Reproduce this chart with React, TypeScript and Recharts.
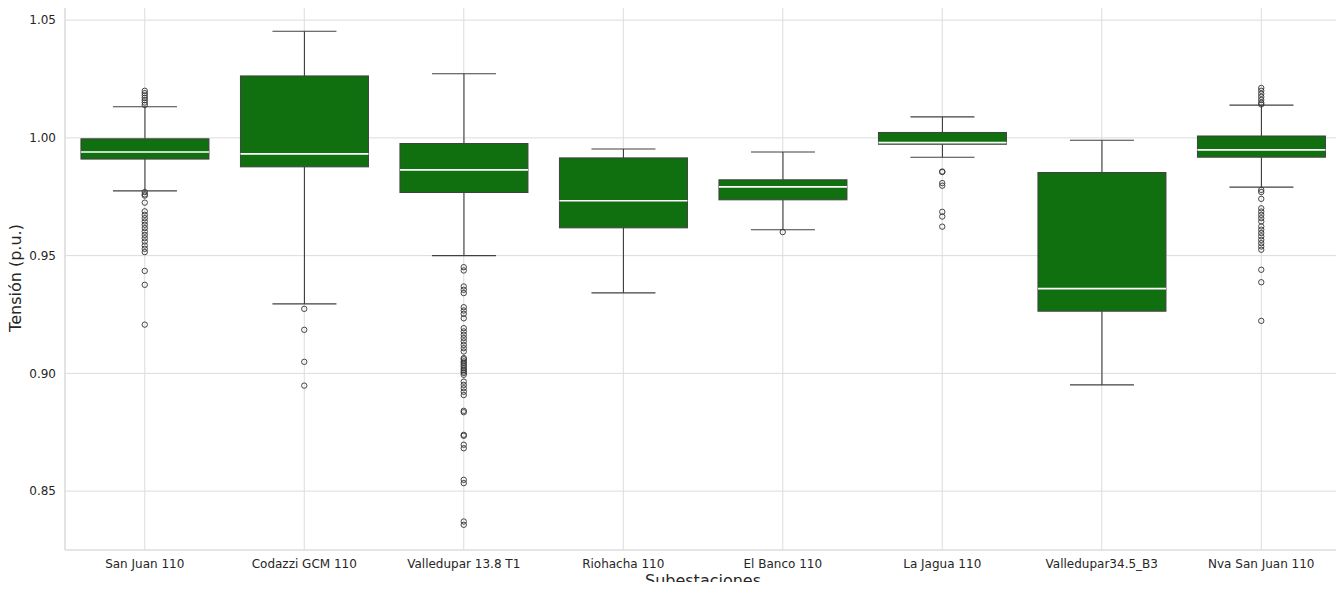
import { ComposedChart, Bar, Scatter, XAxis, YAxis, CartesianGrid } from "recharts";

// ── Box statistics per substation (p.u.) ────────────────────────────────────
const CATEGORIES = [
  "San Juan 110",
  "Codazzi GCM 110",
  "Valledupar 13.8 T1",
  "Riohacha 110",
  "El Banco 110",
  "La Jagua 110",
  "Valledupar34.5_B3",
  "Nva San Juan 110",
];
const WHISKER_LOW = [0.9775, 0.9295, 0.95, 0.9342, 0.961, 0.9918, 0.8951, 0.9791];
const Q1 = [0.991, 0.9877, 0.9768, 0.9618, 0.9737, 0.9973, 0.9264, 0.9918];
const MEDIAN = [0.994, 0.9932, 0.9864, 0.9733, 0.9792, 0.998, 0.936, 0.9949];
const Q3 = [0.9996, 1.0263, 0.9976, 0.9915, 0.9822, 1.0023, 0.9853, 1.0008];
const WHISKER_HIGH = [1.0132, 1.0453, 1.0272, 0.9953, 0.994, 1.0089, 0.999, 1.0139];

const OUTLIERS: number[][] = [
  [
    1.02, 1.019, 1.018, 1.017, 1.016, 1.015, 1.014, 0.977, 0.976, 0.9755, 0.9725, 0.9688, 0.9673, 0.9659,
    0.9645, 0.9631, 0.9617, 0.9602, 0.9588, 0.9574, 0.956, 0.9543, 0.9529, 0.9515, 0.9435, 0.9376, 0.9207,
  ],
  [0.9274, 0.9185, 0.9049, 0.8948],
  [
    0.9451, 0.9437, 0.9369, 0.9355, 0.9341, 0.9281, 0.9267, 0.9253, 0.9234, 0.9192, 0.9178, 0.9164, 0.915,
    0.9136, 0.9121, 0.9107, 0.9093, 0.9065, 0.906, 0.9051, 0.9045, 0.9037, 0.903, 0.9022, 0.9015, 0.9008,
    0.9002, 0.8994, 0.8965, 0.8951, 0.8937, 0.8922, 0.8908, 0.8841, 0.8835, 0.8739, 0.8735, 0.8697, 0.8682,
    0.8548, 0.8534, 0.8371, 0.8357,
  ],
  [],
  [0.96],
  [0.9857, 0.9855, 0.9808, 0.9797, 0.9686, 0.9666, 0.9623],
  [],
  [
    1.0212, 1.02, 1.0187, 1.0174, 1.0161, 1.0149, 1.0142, 0.9779, 0.977, 0.9741, 0.9701, 0.9687, 0.9673,
    0.9659, 0.9645, 0.9624, 0.961, 0.9596, 0.9582, 0.9567, 0.9553, 0.9539, 0.9525, 0.944, 0.9387, 0.9223,
  ],
];

const Y_TICKS = [0.85, 0.9, 0.95, 1.0, 1.05];

const FONT = "'DejaVu Sans', sans-serif";
const TEXT = "#262626";
const GRID = "#dcdcdc";
const BOX_FILL = "#107010";
const LINE = "#404040";

const boxData = CATEGORIES.map((name, i) => ({
  name,
  range: [WHISKER_LOW[i], WHISKER_HIGH[i]],
  q1: Q1[i],
  med: MEDIAN[i],
  q3: Q3[i],
}));

const outlierData = CATEGORIES.flatMap((name, i) => OUTLIERS[i].map((v) => ({ name, v })));

// whisker range comes from the bar scale, quartiles placed linearly inside it
function BoxShape(props: any) {
  const { x, y, width, height, payload } = props;
  const [lo, hi] = payload.range;
  const k = height / (hi - lo);
  const py = (v: number) => y + (hi - v) * k;
  const cx = x + width / 2;
  const cap = width / 4;
  const yQ1 = py(payload.q1);
  const yQ3 = py(payload.q3);
  const yMed = py(payload.med);
  return (
    <g>
      <line x1={cx} x2={cx} y1={y} y2={yQ3} stroke={LINE} strokeWidth={1.1} />
      <line x1={cx} x2={cx} y1={yQ1} y2={y + height} stroke={LINE} strokeWidth={1.1} />
      <line x1={cx - cap} x2={cx + cap} y1={y} y2={y} stroke={LINE} strokeWidth={1.1} />
      <line x1={cx - cap} x2={cx + cap} y1={y + height} y2={y + height} stroke={LINE} strokeWidth={1.1} />
      <rect x={x} y={yQ3} width={width} height={yQ1 - yQ3} fill={BOX_FILL} stroke={LINE} strokeWidth={1} />
      <line x1={x} x2={x + width} y1={yMed} y2={yMed} stroke="#ffffff" strokeWidth={1.6} />
    </g>
  );
}

function OutlierShape(props: any) {
  const { cx, cy } = props;
  return <circle cx={cx} cy={cy} r={2.7} fill="none" stroke="#333333" strokeWidth={0.9} />;
}

function XLabel(props: any) {
  const { viewBox } = props;
  return (
    <text
      x={viewBox.x + viewBox.width / 2}
      y={viewBox.y + viewBox.height - 4}
      textAnchor="middle"
      fontSize={16}
      fill={TEXT}
      fontFamily={FONT}
    >
      Subestaciones
    </text>
  );
}

function YLabel(props: any) {
  const { viewBox } = props;
  const cy = viewBox.y + viewBox.height / 2;
  return (
    <text
      x={21}
      y={cy}
      transform={`rotate(-90, 21, ${cy})`}
      textAnchor="middle"
      fontSize={16}
      fill={TEXT}
      fontFamily={FONT}
    >
      Tensión (p.u.)
    </text>
  );
}

export default function App() {
  return (
    <div style={{ margin: -8, position: "relative", width: 1344, height: 590, fontFamily: FONT }}>
      <ComposedChart
        width={1344}
        height={590}
        data={boxData}
        margin={{ top: 6, right: 3, bottom: 0, left: 0 }}
        barCategoryGap="10%"
      >
        <CartesianGrid stroke={GRID} strokeWidth={1} />
        <XAxis
          dataKey="name"
          allowDuplicatedCategory={false}
          height={40}
          tickLine={false}
          tickSize={6}
          tickMargin={3}
          axisLine={{ stroke: GRID, strokeWidth: 1.2 }}
          tick={{ fontSize: 12, fill: TEXT, fontFamily: FONT }}
          interval={0}
          label={<XLabel />}
        />
        <XAxis
          xAxisId="top"
          dataKey="name"
          allowDuplicatedCategory={false}
          orientation="top"
          height={0}
          tick={false}
          tickLine={false}
          axisLine={{ stroke: GRID, strokeWidth: 1.2 }}
        />
        <YAxis
          type="number"
          domain={[0.825, 1.056]}
          allowDataOverflow
          ticks={Y_TICKS}
          width={65}
          tickLine={false}
          tickSize={6}
          tickMargin={3}
          axisLine={{ stroke: GRID, strokeWidth: 1.2 }}
          tick={{ fontSize: 12, fill: TEXT, fontFamily: FONT }}
          tickFormatter={(v: number) => v.toFixed(2)}
          label={<YLabel />}
        />
        <YAxis
          yAxisId="right"
          orientation="right"
          width={0}
          tick={false}
          tickLine={false}
          axisLine={{ stroke: GRID, strokeWidth: 1.2 }}
        />
        <Bar dataKey="range" shape={BoxShape} isAnimationActive={false} />
        <Scatter data={outlierData} dataKey="v" shape={OutlierShape} isAnimationActive={false} />
        <text x={703} y={4} textAnchor="middle" fontSize={18} fill={TEXT} fontFamily={FONT}>
          Diagrama de caja - Tensión vs Subestación - Compensación 30 MVAR - Sin Guajiras
        </text>
      </ComposedChart>
    </div>
  );
}
